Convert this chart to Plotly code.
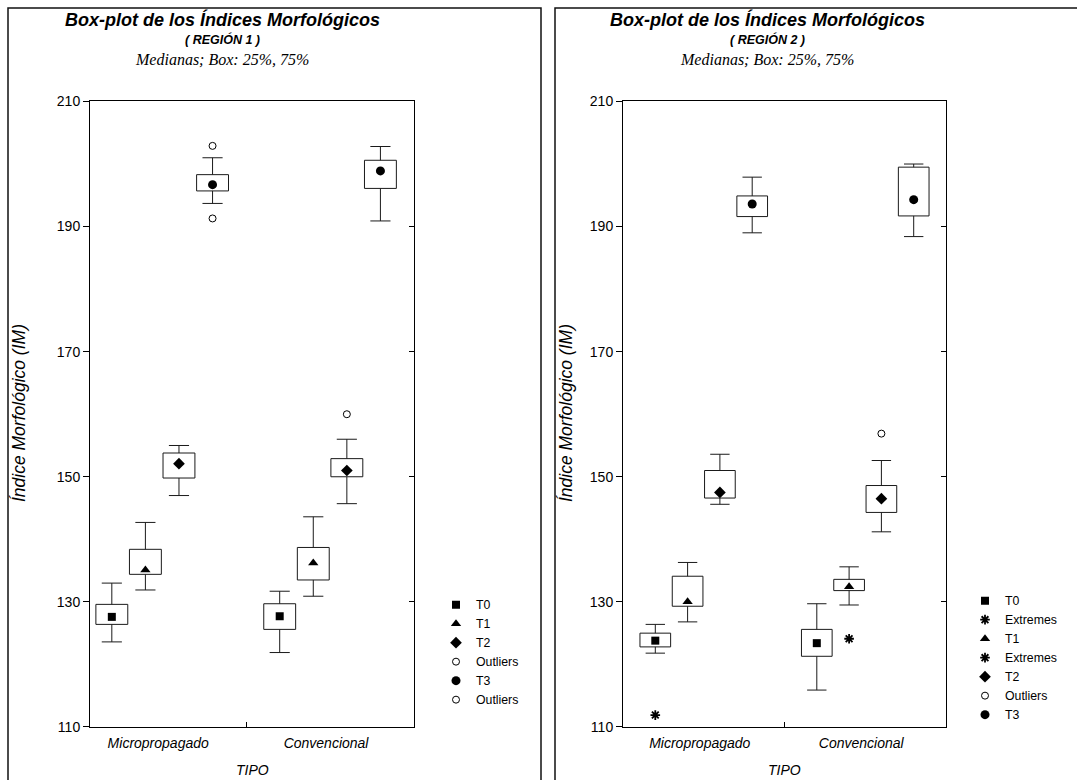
import plotly.graph_objects as go

W, H = 1077, 780
# the paper area is laid out with an 8.3 px inset at the top and bottom
INSET_Y = 8.3

categories = ["Micropropagado", "Convencional"]
series = ["T0", "T1", "T2", "T3"]

# Region 1 statistics, indexed [series][category]
r1_low = [[123.6, 121.9], [131.9, 130.9], [147.0, 145.7], [193.7, 190.9]]
r1_q1 = [[126.4, 125.6], [134.4, 133.5], [149.8, 150.0], [195.7, 196.1]]
r1_median = [[127.6, 127.7], [135.1, 136.2], [152.1, 151.0], [196.7, 198.9]]
r1_q3 = [[129.6, 129.7], [138.4, 138.7], [153.8, 152.9], [198.3, 200.6]]
r1_high = [[133.0, 131.7], [142.7, 143.6], [155.0, 156.0], [201.0, 202.8]]
r1_outliers = [[[], []], [[], []], [[], [160.0]], [[202.9, 191.3], []]]
r1_extremes = [[[], []], [[], []], [[], []], [[], []]]

# Region 2 statistics, indexed [series][category]
r2_low = [[121.8, 115.9], [126.8, 129.5], [145.6, 141.2], [189.0, 188.4]]
r2_q1 = [[122.8, 121.3], [129.3, 131.8], [146.6, 144.3], [191.6, 191.7]]
r2_median = [[123.8, 123.4], [130.0, 132.4], [147.5, 146.5], [193.6, 194.3]]
r2_q3 = [[125.0, 125.6], [134.1, 133.6], [151.0, 148.6], [194.9, 199.5]]
r2_high = [[126.4, 129.7], [136.3, 135.6], [153.6, 152.6], [197.9, 200.0]]
r2_outliers = [[[], []], [[], []], [[], [156.9]], [[], []]]
r2_extremes = [[[111.9], []], [[], [124.1]], [[], []], [[], []]]

y_ticks = [110, 130, 150, 170, 190, 210]

symbols = ["square", "triangle-up", "diamond", "circle"]
sizes = [8, 9, 9, 9]
offsets = [-0.3, -0.1, 0.1, 0.3]
BOX_HALF = 0.095
CAP_HALF = 0.06
LINE = "#1a1a1a"
FONT = "Liberation Sans"


def px_x(p):
    return p / W


def px_y(p):
    return 1 - (p - INSET_Y) / (H - 2 * INSET_Y)


fig = go.Figure()


def add_region(xa, ya, legend, low, q1, med, q3, high, outl, extr):
    for s, name in enumerate(series):
        bx, by, wx, wy = [], [], [], []
        for c in range(len(categories)):
            p = c + offsets[s]
            bx += [p - BOX_HALF, p + BOX_HALF, p + BOX_HALF, p - BOX_HALF, p - BOX_HALF, None]
            by += [q1[s][c], q1[s][c], q3[s][c], q3[s][c], q1[s][c], None]
            wx += [p, p, None, p, p, None,
                   p - CAP_HALF, p + CAP_HALF, None, p - CAP_HALF, p + CAP_HALF, None]
            wy += [q3[s][c], high[s][c], None, q1[s][c], low[s][c], None,
                   high[s][c], high[s][c], None, low[s][c], low[s][c], None]
        fig.add_trace(go.Scatter(x=bx, y=by, mode="lines", xaxis=xa, yaxis=ya,
                                 line=dict(color=LINE, width=1), showlegend=False,
                                 hoverinfo="skip"))
        fig.add_trace(go.Scatter(x=wx, y=wy, mode="lines", xaxis=xa, yaxis=ya,
                                 line=dict(color=LINE, width=1), showlegend=False,
                                 hoverinfo="skip"))
        fig.add_trace(go.Scatter(
            x=[c + offsets[s] for c in range(len(categories))],
            y=[med[s][c] for c in range(len(categories))],
            mode="markers", name=name, xaxis=xa, yaxis=ya, legend=legend,
            marker=dict(symbol=symbols[s], size=sizes[s], color="black",
                        line=dict(width=0))))
        ex, ey = [], []
        for c in range(len(categories)):
            for v in extr[s][c]:
                ex.append(c + offsets[s])
                ey.append(v)
        if ey:
            fig.add_trace(go.Scatter(
                x=ex, y=ey, mode="markers", name="Extremes", xaxis=xa, yaxis=ya,
                legend=legend,
                marker=dict(symbol="asterisk-open", size=8, color="black",
                            line=dict(width=1.8, color="black"))))
        ox, oy = [], []
        for c in range(len(categories)):
            for v in outl[s][c]:
                ox.append(c + offsets[s])
                oy.append(v)
        if oy:
            fig.add_trace(go.Scatter(
                x=ox, y=oy, mode="markers", name="Outliers", xaxis=xa, yaxis=ya,
                legend=legend,
                marker=dict(symbol="circle-open", size=7, color="black",
                            line=dict(width=1, color="black"))))


add_region("x", "y", "legend", r1_low, r1_q1, r1_median, r1_q3, r1_high,
           r1_outliers, r1_extremes)
add_region("x2", "y2", "legend2", r2_low, r2_q1, r2_median, r2_q3, r2_high,
           r2_outliers, r2_extremes)

# empty traces carrying the inward ticks on the right-hand side of each panel
fig.add_trace(go.Scatter(x=[None], y=[None], xaxis="x", yaxis="y3", showlegend=False))
fig.add_trace(go.Scatter(x=[None], y=[None], xaxis="x2", yaxis="y4", showlegend=False))

y_dom = [px_y(726.7), px_y(101.7)]
panels = [
    dict(left=90, right=414, rng=[-0.43, 1.5]),
    dict(left=623, right=946, rng=[-0.5, 1.5]),
]

tick_font = dict(family=FONT, size=14, color="black")
for i, pnl in enumerate(panels):
    xn = "xaxis" if i == 0 else "xaxis2"
    yn = "yaxis" if i == 0 else "yaxis2"
    fig.layout[xn] = dict(
        domain=[px_x(pnl["left"]), px_x(pnl["right"])], anchor="y" if i == 0 else "y2",
        range=pnl["rng"], tickvals=[0, 1], ticktext=categories, ticks="",
        tickfont=dict(family=FONT, size=14, color="black", style="italic"),
        ticklabelstandoff=3, ticklabelshift=-4,
        showline=True, linecolor="black", linewidth=1, mirror=True,
        showgrid=False, zeroline=False,
        minor=dict(tickvals=[0.5], ticks="inside", ticklen=5, tickcolor="black",
                   showgrid=False),
    )
    fig.layout[yn] = dict(
        domain=y_dom, anchor="x" if i == 0 else "x2", range=[110, 210],
        tickvals=y_ticks, ticks="outside", ticklen=6, tickcolor="black",
        tickfont=tick_font, showline=True, linecolor="black", linewidth=1,
        mirror=True, showgrid=False, zeroline=False,
    )

fig.layout["yaxis3"] = dict(overlaying="y", matches="y", anchor="x", side="right",
                            tickvals=y_ticks, ticks="inside", ticklen=5,
                            tickcolor="black", showticklabels=False,
                            showline=False, showgrid=False, zeroline=False)
fig.layout["yaxis4"] = dict(overlaying="y2", matches="y2", anchor="x2", side="right",
                            tickvals=y_ticks, ticks="inside", ticklen=5,
                            tickcolor="black", showticklabels=False,
                            showline=False, showgrid=False, zeroline=False)

annotations = []
shapes = []
frames = [(8, 541), (555, 1100)]
title_cx = [222, 767]
plot_cx = [252, 784.5]
for i in range(2):
    shapes.append(dict(type="rect", xref="paper", yref="paper",
                       x0=px_x(frames[i][0]), x1=px_x(frames[i][1]),
                       y0=-0.05, y1=px_y(8.3), line=dict(color="#111", width=1.5)))
    cx = px_x(title_cx[i])
    annotations += [
        dict(text="<b><i>Box-plot de los Índices Morfológicos</i></b>", x=cx, y=px_y(20),
             xref="paper", yref="paper", showarrow=False, xanchor="center",
             yanchor="middle", font=dict(family=FONT, size=18, color="black")),
        dict(text=f"<b><i>( REGIÓN {i + 1} )</i></b>", x=cx, y=px_y(40),
             xref="paper", yref="paper", showarrow=False, xanchor="center",
             yanchor="middle", font=dict(family=FONT, size=12.5, color="black")),
        dict(text="<i>Medianas; Box: 25%, 75%</i>", x=cx, y=px_y(60),
             xref="paper", yref="paper", showarrow=False, xanchor="center",
             yanchor="middle", font=dict(family="Liberation Serif", size=16, color="black")),
        dict(text="<i>TIPO</i>", x=px_x(plot_cx[i]), y=px_y(770),
             xref="paper", yref="paper", showarrow=False, xanchor="center",
             yanchor="middle", font=dict(family=FONT, size=14, color="black")),
        dict(text="<i>Índice Morfológico (IM)</i>", x=px_x(19 + 547 * i), y=px_y(413),
             xref="paper", yref="paper", showarrow=False, xanchor="center",
             yanchor="middle", textangle=-90,
             font=dict(family=FONT, size=17.5, color="black")),
    ]

legend_style = dict(font=dict(family=FONT, size=12.3, color="black"),
                    bgcolor="rgba(0,0,0,0)", borderwidth=0, traceorder="normal",
                    xanchor="left", yanchor="top", itemwidth=30)

fig.update_layout(
    width=W, height=H, margin=dict(l=0, r=0, t=0, b=0),
    paper_bgcolor="white", plot_bgcolor="white",
    font=dict(family=FONT, color="black"),
    annotations=annotations, shapes=shapes,
    legend=dict(x=px_x(436), y=px_y(590), **legend_style),
    legend2=dict(x=px_x(965), y=px_y(586), **legend_style),
    showlegend=True,
)

fig.write_html("out.html")
